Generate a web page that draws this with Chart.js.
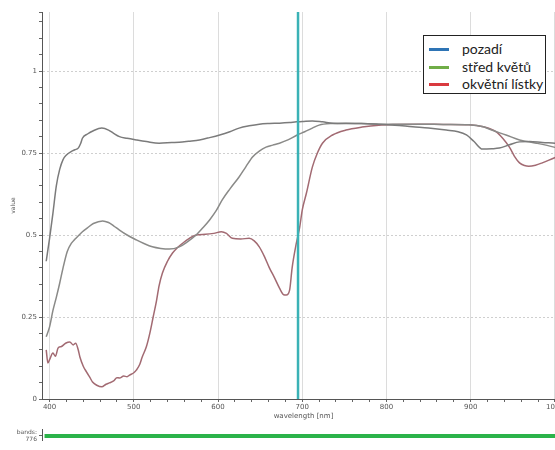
<!DOCTYPE html>
<html>
<head>
<meta charset="utf-8">
<script src="https://cdn.jsdelivr.net/npm/chart.js@4"></script>
<style>
  body { margin: 0; background: #fff; overflow: hidden; width: 555px; height: 450px; position: relative; }
  #main { position: absolute; left: 0; top: 0; }
  #bands { position: absolute; left: 0; top: 420px; }
  #legend { position: absolute; left: 423px; top: 35px; width: 121px; height: 57px; border: 1px solid #222; background: #fff;
            font-family: Lato, "Open Sans", sans-serif; font-size: 14px; color: #222; }
  #legend div { position: absolute; left: 0; height: 18px; line-height: 18px; }
  #legend span.sw { position: absolute; left: 5px; top: 8px; width: 20px; height: 3px; }
  #legend span.tx { position: absolute; left: 38px; top: 0; white-space: nowrap; }
</style>
</head>
<body>
<canvas id="main" width="570" height="420"></canvas>
<canvas id="bands" width="570" height="30"></canvas>
<div id="legend"></div>
<script>
// legend entries
seriesNames = ['pozadí', 'střed květů', 'okvětní lístky'];
legendColors = ['#2e74b5', '#70ad47', '#d93a3f'];

// top curve
wl1 = [396, 400, 404, 408, 412, 416, 420, 426, 430, 434, 437, 439, 445, 452, 462, 470, 476, 483, 492, 503,
    515, 530, 545, 554, 565, 578, 590, 602, 614, 625, 637, 649, 661, 673, 685, 693, 700, 712, 724, 736,
    750, 770, 791, 810, 831, 850, 871, 885, 895, 904, 914, 925, 934, 946, 958, 970, 985, 1000, 1010];
val1 = [0.42, 0.49, 0.567, 0.65, 0.70, 0.73, 0.744, 0.755, 0.76, 0.765, 0.78, 0.795, 0.808, 0.818, 0.826, 0.82, 0.81, 0.80, 0.795, 0.79,
    0.785, 0.78, 0.782, 0.783, 0.786, 0.79, 0.797, 0.805, 0.815, 0.826, 0.833, 0.838, 0.84, 0.841, 0.843, 0.845, 0.846, 0.848, 0.845, 0.841,
    0.84, 0.84, 0.838, 0.835, 0.83, 0.826, 0.82, 0.815, 0.805, 0.785, 0.762, 0.763, 0.765, 0.775, 0.784, 0.785, 0.782, 0.78, 0.778];

// middle curve
wl2 = [396, 400, 404, 408, 412, 416, 421, 426, 430, 435, 439, 445, 452, 463, 470, 476, 483, 492, 503, 512,
    522, 532, 542, 554, 564, 574, 582, 590, 598, 605, 614, 625, 633, 641, 649, 657, 665, 673, 683, 694,
    703, 712, 720, 735, 752, 770, 791, 810, 839, 870, 898, 915, 925, 942, 958, 978, 999, 1010];
val2 = [0.19, 0.22, 0.27, 0.31, 0.353, 0.40, 0.45, 0.475, 0.487, 0.50, 0.51, 0.522, 0.535, 0.543, 0.538, 0.528, 0.515, 0.50, 0.485, 0.474,
    0.464, 0.459, 0.457, 0.464, 0.48, 0.50, 0.522, 0.546, 0.575, 0.607, 0.64, 0.677, 0.708, 0.738, 0.756, 0.768, 0.774, 0.78, 0.79, 0.805,
    0.815, 0.826, 0.835, 0.84, 0.841, 0.84, 0.838, 0.838, 0.838, 0.837, 0.836, 0.83, 0.82, 0.805, 0.79, 0.78, 0.768, 0.76];

// lower curve
wl3 = [396, 398, 400, 404, 407, 410, 414, 419, 424, 428, 431, 434, 436, 440, 444, 448, 451, 456, 462, 467,
    471, 476, 480, 483, 488, 492, 495, 500, 503, 507, 510, 515, 519, 523, 527, 530, 534, 540, 546, 552,
    558, 566, 574, 585, 595, 604, 610, 617, 627, 637, 643, 649, 655, 661, 667, 673, 678, 681, 685, 688,
    693, 697, 700, 705, 712, 718, 724, 736, 752, 771, 791, 810, 839, 870, 898, 915, 930, 938, 946, 952,
    958, 964, 969, 977, 985, 999, 1010];
val3 = [0.15, 0.11, 0.12, 0.14, 0.13, 0.155, 0.16, 0.17, 0.174, 0.165, 0.17, 0.15, 0.128, 0.10, 0.082, 0.065, 0.052, 0.042, 0.037, 0.045,
    0.049, 0.055, 0.065, 0.064, 0.07, 0.068, 0.073, 0.08, 0.088, 0.105, 0.128, 0.16, 0.2, 0.25, 0.3, 0.345, 0.384, 0.42, 0.445, 0.462,
    0.475, 0.49, 0.50, 0.502, 0.505, 0.51, 0.505, 0.49, 0.488, 0.49, 0.482, 0.464, 0.435, 0.40, 0.37, 0.338, 0.318, 0.317, 0.332, 0.40,
    0.475, 0.524, 0.576, 0.628, 0.707, 0.75, 0.78, 0.805, 0.82, 0.829, 0.835, 0.837, 0.838, 0.837, 0.836, 0.83, 0.815, 0.795, 0.768, 0.74,
    0.72, 0.712, 0.71, 0.713, 0.72, 0.735, 0.745];

// selected band marker
markerWl = 695;
bandsLabel = ['bands:', '776'];
bandRange = [394, 1012];

xMin = 391;
xMax = 1012;
yMax = 1.18;

function pts(xs, ys) {
    return xs.map(function (x, i) { return { x: x, y: ys[i] }; });
}

function isMajorY(v) { return Math.abs(v * 4 - Math.round(v * 4)) < 1e-6; }
function isMajorX(v) { return Math.abs(v % 100) < 1e-6; }

var tickFont = { family: 'DejaVu Sans', size: 7 };

new Chart(document.getElementById('main').getContext('2d'), {
    type: 'line',
    data: {
        datasets: [
            { data: [{ x: markerWl, y: 0 }, { x: markerWl, y: yMax }], borderColor: '#3ab2b6', borderWidth: 2.5, pointRadius: 0 },
            { label: seriesNames[0], data: pts(wl1, val1), borderColor: '#7b7b7b', borderWidth: 1.5, pointRadius: 0, cubicInterpolationMode: 'monotone' },
            { label: seriesNames[1], data: pts(wl2, val2), borderColor: '#8a8a88', borderWidth: 1.5, pointRadius: 0, cubicInterpolationMode: 'monotone' },
            { label: seriesNames[2], data: pts(wl3, val3), borderColor: '#a26a72', borderWidth: 1.5, pointRadius: 0, cubicInterpolationMode: 'monotone' }
        ]
    },
    options: {
        responsive: false,
        animation: false,
        layout: { padding: { left: 0, top: 12, right: 5, bottom: 0 } },
        plugins: { legend: { display: false }, tooltip: { enabled: false } },
        scales: {
            x: {
                type: 'linear', min: xMin, max: xMax,
                afterFit: function (s) { s.height = 21; },
                ticks: {
                    stepSize: 20, includeBounds: false, autoSkip: false, maxRotation: 0, padding: 1, color: '#555', font: tickFont,
                    callback: function (v) { return isMajorX(v) ? String(v) : ''; }
                },
                grid: {
                    color: function (c) { return c.tick && isMajorX(c.tick.value) ? '#dcdcdc' : 'rgba(0,0,0,0)'; },
                    tickColor: '#666', tickLength: 3, lineWidth: 1
                },
                border: { color: '#555', width: 1 },
                title: { display: true, text: 'wavelength [nm]', color: '#555', font: tickFont, padding: { top: 0, bottom: 0 } }
            },
            y: {
                min: 0, max: yMax,
                afterFit: function (s) { s.width = 42; },
                ticks: {
                    stepSize: 0.05, autoSkip: false, padding: 2, color: '#555', font: tickFont,
                    callback: function (v) { return isMajorY(v) ? String(Math.round(v * 100) / 100) : ''; }
                },
                grid: {
                    color: function (c) { return c.tick && isMajorY(c.tick.value) && c.tick.value > 0 ? '#cfcfcf' : 'rgba(0,0,0,0)'; },
                    tickColor: '#666', tickLength: 3, lineWidth: 1
                },
                border: { color: '#555', width: 1, dash: [2, 2] },
                title: { display: true, text: 'value', color: '#555', font: { family: 'DejaVu Sans', size: 6 }, padding: { top: 10, bottom: 0 } }
            }
        }
    }
});

new Chart(document.getElementById('bands').getContext('2d'), {
    type: 'line',
    data: {
        datasets: [
            { data: [{ x: bandRange[0], y: 0 }, { x: bandRange[1], y: 0 }], borderColor: '#2bb34a', borderWidth: 4, pointRadius: 0 }
        ]
    },
    options: {
        responsive: false,
        animation: false,
        layout: { padding: { left: 0, top: 0, right: 5, bottom: 0 } },
        plugins: { legend: { display: false }, tooltip: { enabled: false } },
        scales: {
            x: { type: 'linear', min: xMin, max: xMax, display: false },
            y: {
                min: -1, max: 1.4,
                afterFit: function (s) { s.width = 42; },
                afterBuildTicks: function (s) { s.ticks = [{ value: 0 }]; },
                ticks: { padding: 2, color: '#555', font: { family: 'DejaVu Sans', size: 6 }, callback: function () { return bandsLabel; } },
                grid: { drawOnChartArea: false, tickColor: '#666', tickLength: 3 },
                border: { color: '#555', width: 1 }
            }
        }
    }
});

// legend box
var lg = document.getElementById('legend');
var rowTops = [4, 22, 39];
seriesNames.forEach(function (name, i) {
    var row = document.createElement('div');
    row.style.top = rowTops[i] + 'px';
    row.innerHTML = '<span class="sw" style="background:' + legendColors[i] + '"></span><span class="tx">' + name + '</span>';
    lg.appendChild(row);
});
</script>
</body>
</html>
